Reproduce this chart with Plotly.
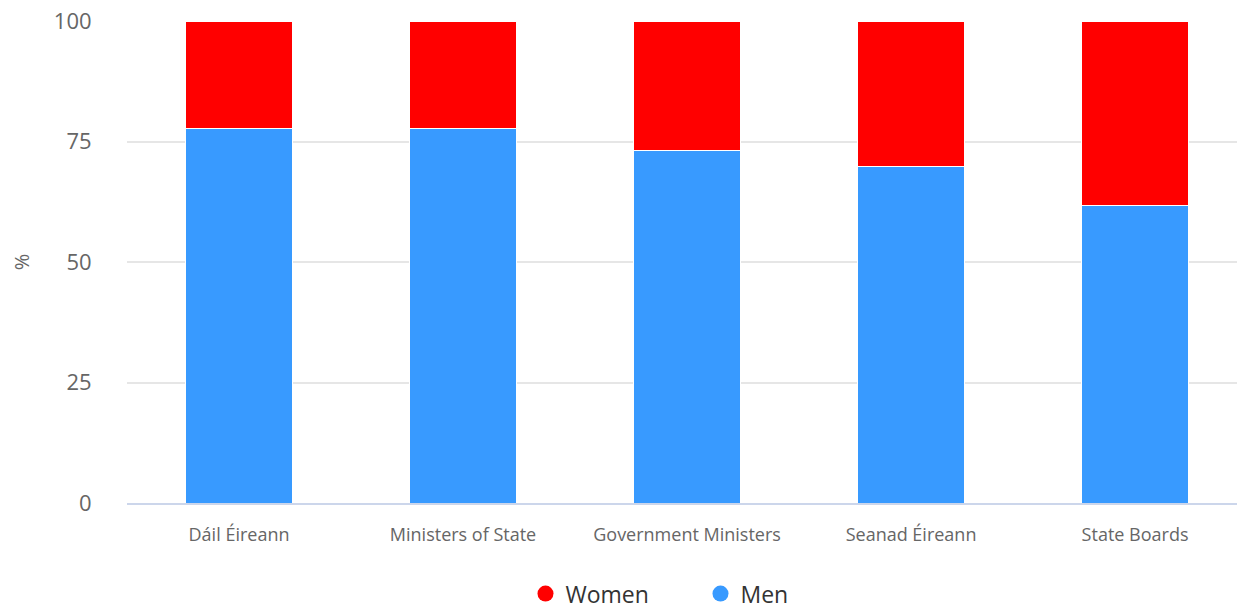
import plotly.graph_objects as go

categories = ["Dáil Éireann", "Ministers of State", "Government Ministers", "Seanad Éireann", "State Boards"]
men = [77.6, 77.6, 73.2, 69.8, 61.8]
women = [22.4, 22.4, 26.8, 30.2, 38.2]
y_ticks = [0, 25, 50, 75, 100]

RED = "#ff0000"
BLUE = "#389aff"
FONT = "Open Sans"

fig = go.Figure()
fig.add_trace(go.Bar(x=categories, y=men, name="Men", marker=dict(color=BLUE, line=dict(color="white", width=1)),
                     width=0.475, showlegend=False))
fig.add_trace(go.Bar(x=categories, y=women, name="Women", marker=dict(color=RED, line=dict(color="white", width=1)),
                     width=0.475, showlegend=False))
# legend entries (circle symbols)
fig.add_trace(go.Scatter(x=[None], y=[None], mode="markers", name="Women",
                         marker=dict(symbol="circle", color=RED, size=16)))
fig.add_trace(go.Scatter(x=[None], y=[None], mode="markers", name="Men",
                         marker=dict(symbol="circle", color=BLUE, size=16)))

fig.update_layout(
    width=1237, height=611,
    barmode="stack",
    plot_bgcolor="white", paper_bgcolor="white",
    margin=dict(l=127, r=0, t=21, b=108, autoexpand=False),
    font=dict(family=FONT, color="#666666"),
    legend=dict(orientation="h", x=0.359, xanchor="left", y=-0.188, yanchor="middle",
                font=dict(size=23, color="#333333"), itemsizing="trace", traceorder="normal",
                itemwidth=30, entrywidth=130),
    xaxis=dict(type="category", range=[-0.5, 4.455], showgrid=False,
               showline=True, linecolor="#ccd6eb", linewidth=2,
               ticks="outside", ticklen=14, tickcolor="rgba(0,0,0,0)",
               tickfont=dict(size=18, color="#666666")),
    yaxis=dict(range=[0, 100], tickvals=y_ticks, showgrid=True, gridcolor="#e6e6e6", gridwidth=1.5,
               zeroline=False, showline=False,
               ticks="outside", ticklen=30, tickcolor="rgba(0,0,0,0)",
               tickfont=dict(size=22, color="#666666"),
               title=dict(text="%", font=dict(size=20, color="#666666"), standoff=18)),
)

fig.write_html("out.html")
